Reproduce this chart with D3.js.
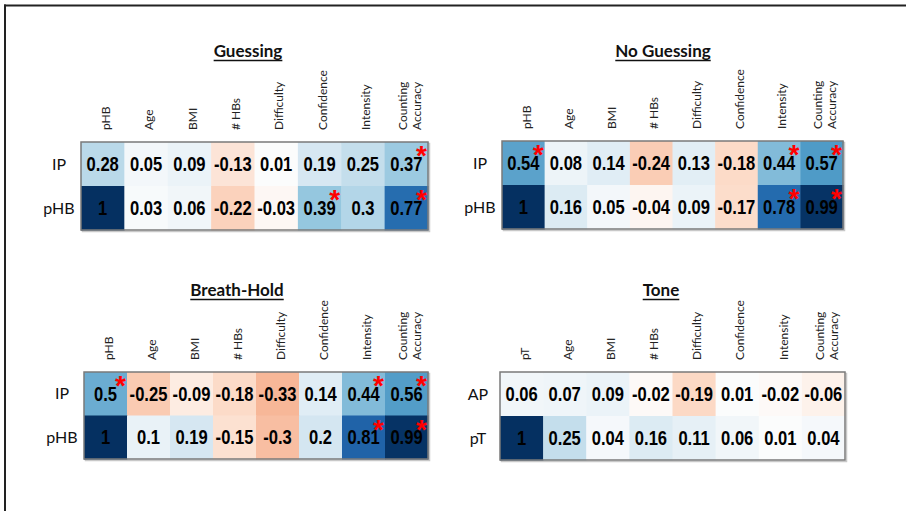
<!DOCTYPE html>
<html>
<head>
<meta charset="utf-8">
<script src="https://cdn.jsdelivr.net/npm/d3@7"></script>
<style>
  html, body { margin: 0; padding: 0; background: #fff; }
  svg { display: block; }
</style>
</head>
<body>
<svg id="chart" width="906" height="511"></svg>
<script>
// ---------------- DATA ----------------
const panelTitles = ["Guessing", "No Guessing", "Breath-Hold", "Tone"];

const columnsHB = ["pHB", "Age", "BMI", "# HBs", "Difficulty", "Confidence", "Intensity", "Counting Accuracy"];
const columnsTone = ["pT", "Age", "BMI", "# HBs", "Difficulty", "Confidence", "Intensity", "Counting Accuracy"];
const rowsHB = ["IP", "pHB"];
const rowsTone = ["AP", "pT"];

const guessingValues = [
  [0.28, 0.05, 0.09, -0.13, 0.01, 0.19, 0.25, 0.37],
  [1, 0.03, 0.06, -0.22, -0.03, 0.39, 0.3, 0.77]
];
const guessingSig = [
  [0, 0, 0, 0, 0, 0, 0, 1],
  [0, 0, 0, 0, 0, 1, 0, 1]
];

const noGuessingValues = [
  [0.54, 0.08, 0.14, -0.24, 0.13, -0.18, 0.44, 0.57],
  [1, 0.16, 0.05, -0.04, 0.09, -0.17, 0.78, 0.99]
];
const noGuessingSig = [
  [1, 0, 0, 0, 0, 0, 1, 1],
  [0, 0, 0, 0, 0, 0, 1, 1]
];

const breathHoldValues = [
  [0.5, -0.25, -0.09, -0.18, -0.33, 0.14, 0.44, 0.56],
  [1, 0.1, 0.19, -0.15, -0.3, 0.2, 0.81, 0.99]
];
const breathHoldSig = [
  [1, 0, 0, 0, 0, 0, 1, 1],
  [0, 0, 0, 0, 0, 0, 1, 1]
];

const toneValues = [
  [0.06, 0.07, 0.09, -0.02, -0.19, 0.01, -0.02, -0.06],
  [1, 0.25, 0.04, 0.16, 0.11, 0.06, 0.01, 0.04]
];
const toneSig = [
  [0, 0, 0, 0, 0, 0, 0, 0],
  [0, 0, 0, 0, 0, 0, 0, 0]
];

// ---------------- LAYOUT ----------------
const layout = [
  { x0: 81,  x1: 428, y0: 142, y1: 230, titleX: 248, titleY: 57 },
  { x0: 502, x1: 843, y0: 141, y1: 229, titleX: 663, titleY: 57 },
  { x0: 84,  x1: 428, y0: 372, y1: 459, titleX: 237, titleY: 296 },
  { x0: 500, x1: 845, y0: 372, y1: 460, titleX: 661, titleY: 296 }
];

const panels = [
  { title: panelTitles[0], cols: columnsHB, rows: rowsHB, values: guessingValues, sig: guessingSig },
  { title: panelTitles[1], cols: columnsHB, rows: rowsHB, values: noGuessingValues, sig: noGuessingSig },
  { title: panelTitles[2], cols: columnsHB, rows: rowsHB, values: breathHoldValues, sig: breathHoldSig },
  { title: panelTitles[3], cols: columnsTone, rows: rowsTone, values: toneValues, sig: toneSig }
];

const svg = d3.select("#chart");

// frame lines
svg.append("line").attr("x1", 4).attr("x2", 906).attr("y1", 5.5).attr("y2", 5.5)
  .attr("stroke", "#222").attr("stroke-width", 2);
svg.append("line").attr("x1", 5).attr("x2", 5).attr("y1", 4.5).attr("y2", 511)
  .attr("stroke", "#222").attr("stroke-width", 2);

// RdBu-like diverging map with a white centre
const fill = d3.scaleLinear()
  .domain([-1, -0.8, -0.6, -0.4, -0.2, 0, 0.2, 0.4, 0.6, 0.8, 1])
  .range(["#67001f", "#b2182b", "#d6604d", "#f4a582", "#fcd7c2", "#fdfdfd",
          "#d4e6f1", "#92c5de", "#4393c3", "#2166ac", "#053061"])
  .interpolate(d3.interpolateRgb)
  .clamp(true);

panels.forEach((p, pi) => {
  const L = layout[pi];
  const g = svg.append("g");
  const x = d3.scaleBand().domain(p.cols.map((c, i) => i)).range([L.x0, L.x1]);
  const y = d3.scaleBand().domain(p.rows.map((r, i) => i)).range([L.y0, L.y1]);

  // title with underline
  const t = g.append("text")
    .attr("x", L.titleX).attr("y", L.titleY)
    .attr("text-anchor", "middle")
    .attr("font-family", "Lato, 'Open Sans', sans-serif")
    .attr("font-weight", "bold")
    .attr("font-size", 17)
    .attr("fill", "#111")
    .text(p.title);
  const tw = t.node().getComputedTextLength();
  g.append("line")
    .attr("x1", L.titleX - tw / 2).attr("x2", L.titleX + tw / 2)
    .attr("y1", L.titleY + 3.5).attr("y2", L.titleY + 3.5)
    .attr("stroke", "#111").attr("stroke-width", 1.3);

  // cells
  const cells = [];
  p.values.forEach((row, ri) => row.forEach((v, ci) => cells.push({ ri, ci, v, s: p.sig[ri][ci] })));

  // shadow
  g.append("rect")
    .attr("x", L.x0 + 1.5).attr("y", L.y0 + 1.5)
    .attr("width", L.x1 - L.x0).attr("height", L.y1 - L.y0)
    .attr("fill", "none").attr("stroke", "#c8c8c8").attr("stroke-width", 1.5);

  g.selectAll("rect.cell").data(cells).join("rect")
    .attr("class", "cell")
    .attr("x", d => x(d.ci)).attr("y", d => y(d.ri))
    .attr("width", x.bandwidth() + 0.5).attr("height", y.bandwidth() + 0.5)
    .attr("fill", d => fill(d.v));

  g.append("rect")
    .attr("x", L.x0).attr("y", L.y0)
    .attr("width", L.x1 - L.x0).attr("height", L.y1 - L.y0)
    .attr("fill", "none").attr("stroke", "#7a7a7a").attr("stroke-width", 1.5);

  g.selectAll("text.val").data(cells).join("text")
    .attr("class", "val")
    .attr("transform", d => `translate(${x(d.ci) + x.bandwidth() / 2},${y(d.ri) + y.bandwidth() / 2 + 7}) scale(0.85,1)`)
    .attr("text-anchor", "middle")
    .attr("font-family", "'Liberation Sans', Arial, sans-serif")
    .attr("font-weight", "bold")
    .attr("font-size", 19.5)
    .attr("fill", "#000")
    .text(d => String(d.v));

  g.selectAll("text.sig").data(cells.filter(d => d.s)).join("text")
    .attr("class", "sig")
    .attr("x", d => x(d.ci) + x.bandwidth() - 6.5)
    .attr("y", d => y(d.ri) + 23)
    .attr("text-anchor", "middle")
    .attr("font-family", "'Liberation Sans', Arial, sans-serif")
    .attr("font-weight", "bold")
    .attr("font-size", 28)
    .attr("fill", "#ff0000")
    .text("*");

  // row labels
  g.selectAll("text.row").data(p.rows).join("text")
    .attr("class", "row")
    .attr("x", L.x0 - 22)
    .attr("y", (d, i) => y(i) + y.bandwidth() / 2 + 5.5)
    .attr("text-anchor", "middle")
    .attr("font-family", "Lato, sans-serif")
    .attr("font-size", 16)
    .attr("fill", "#111")
    .text(d => d);

  // column labels (rotated)
  p.cols.forEach((c, ci) => {
    const words = c === "Counting Accuracy" ? ["Counting", "Accuracy"] : [c];
    const cx = x(ci) + x.bandwidth() / 2 + 3;
    words.forEach((w, wi) => {
      const off = words.length === 1 ? 0 : (wi === 0 ? -7 : 7);
      g.append("text")
        .attr("transform", `translate(${cx + off},${L.y0 - 12}) rotate(-90)`)
        .attr("dy", "0.35em")
        .attr("text-anchor", "start")
        .attr("font-family", "Lato, sans-serif")
        .attr("font-size", 12)
        .attr("fill", "#222")
        .text(w);
    });
  });
});
</script>
</body>
</html>
